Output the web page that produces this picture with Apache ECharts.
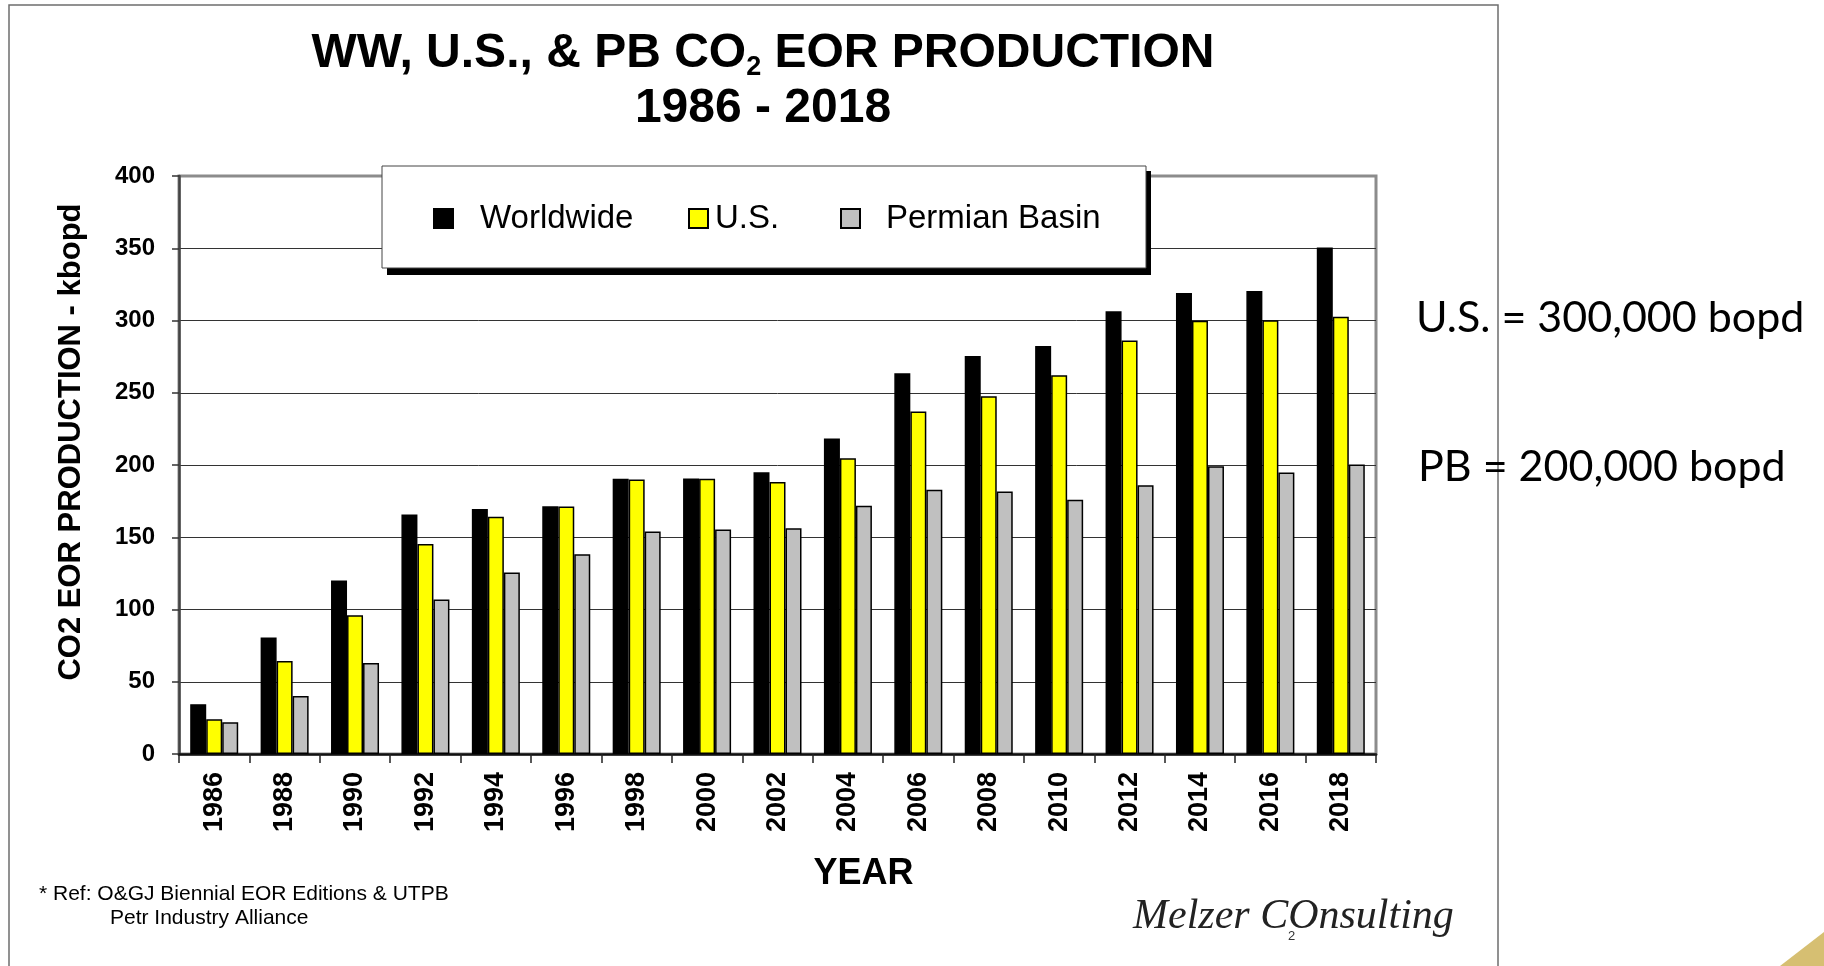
<!DOCTYPE html>
<html>
<head>
<meta charset="utf-8">
<title>WW, U.S., & PB CO2 EOR Production</title>
<script src="https://cdn.jsdelivr.net/npm/echarts@6/dist/echarts.min.js"></script>
<style>
  html, body { margin: 0; padding: 0; background: #fff; }
  #main { width: 1824px; height: 966px; }
</style>
</head>
<body>
<div id="main"></div>
<script>
// values, kbopd
var years = ['1986', '1988', '1990', '1992', '1994', '1996', '1998', '2000', '2002',
             '2004', '2006', '2008', '2010', '2012', '2014', '2016', '2018'];
var worldwide = [34.5, 80.7, 120.1, 165.8, 169.6, 171.5, 190.4, 190.7, 195.0,
                 218.3, 263.5, 275.5, 282.4, 306.4, 319.0, 320.4, 350.5];
var usProd = [24.0, 64.3, 96.0, 145.3, 164.2, 171.3, 189.9, 190.4, 188.2,
              204.6, 237.0, 247.6, 262.1, 286.2, 299.9, 300.1, 302.6];
var permian = [21.9, 40.2, 62.9, 107.0, 125.6, 138.2, 154.0, 155.4, 156.2,
               171.8, 182.8, 181.7, 175.9, 186.0, 199.2, 194.8, 200.3];
var yTicks = { min: 0, max: 400, interval: 50 };

var FONT = 'Liberation Sans, Arial, sans-serif';

var myChart = echarts.init(document.getElementById('main'));

function barSeries(name, color, values) {
    return {
        name: name,
        type: 'bar',
        data: values,
        barWidth: 16,
        barGap: '0%',
        itemStyle: { color: color, borderColor: '#000', borderWidth: 1.5 }
    };
}

function legendItem(name, left, gap) {
    return {
        data: [{ name: name, icon: 'rect' }],
        left: left,
        top: 202,
        padding: 0,
        z: 10,
        selectedMode: false,
        itemWidth: 19,
        itemHeight: 19,
        textStyle: { fontFamily: FONT, fontSize: 33, color: '#000', padding: [0, 0, 0, gap] }
    };
}

var option = {
    animation: false,
    backgroundColor: '#fff',
    title: {
        left: 763,
        top: 26,
        padding: 0,
        textAlign: 'center',
        text: '{a|WW, U.S., & PB CO}{s|2}{a| EOR PRODUCTION}\n{a|1986 - 2018}',
        textStyle: {
            rich: {
                a: { fontFamily: FONT, fontSize: 48, fontWeight: 'bold', color: '#000', lineHeight: 55 },
                s: { fontFamily: FONT, fontSize: 27, fontWeight: 'bold', color: '#000', lineHeight: 46, verticalAlign: 'bottom' }
            }
        }
    },
    legend: [
        legendItem('Worldwide', 433, 22),
        legendItem('U.S.', 688, 2),
        legendItem('Permian Basin', 840, 21)
    ],
    grid: {
        left: 179,
        right: 448,
        top: 176,
        bottom: 212,
        show: true,
        borderColor: '#8c8c8c',
        borderWidth: 3,
        containLabel: false,
        outerBoundsMode: 'none'
    },
    xAxis: {
        type: 'category',
        data: years,
        name: 'YEAR',
        nameLocation: 'middle',
        nameGap: 102,
        nameTextStyle: { fontFamily: FONT, fontSize: 36, fontWeight: 'bold', color: '#000', padding: [0, 0, 0, 172] },
        axisLine: { lineStyle: { color: '#111', width: 2.5 } },
        axisTick: { show: true, length: 9, lineStyle: { color: '#222', width: 1.5 } },
        axisLabel: {
            interval: 0,
            rotate: 90,
            margin: 18,
            fontFamily: FONT,
            fontSize: 27,
            fontWeight: 'bold',
            color: '#000'
        }
    },
    yAxis: {
        type: 'value',
        min: yTicks.min,
        max: yTicks.max,
        interval: yTicks.interval,
        name: 'CO2 EOR PRODUCTION - kbopd',
        nameLocation: 'middle',
        nameGap: 92,
        nameTextStyle: { fontFamily: FONT, fontSize: 31, fontWeight: 'bold', color: '#000', padding: [0, 0, 0, 46] },
        axisLine: { show: true, lineStyle: { color: '#444', width: 2.5 } },
        axisTick: { show: true, length: 7, lineStyle: { color: '#333', width: 1.5 } },
        axisLabel: { margin: 24, fontFamily: FONT, fontSize: 24, fontWeight: 'bold', color: '#000' },
        splitLine: { show: true, showMinLine: false, showMaxLine: false, lineStyle: { color: '#333', width: 1 } }
    },
    series: [
        barSeries('Worldwide', '#000000', worldwide),
        barSeries('U.S.', '#FFFF00', usProd),
        barSeries('Permian Basin', '#C0C0C0', permian)
    ],
    graphic: [
        // outer frame of the slide picture
        { type: 'rect', z: 1, shape: { x: 9, y: 5, width: 1489, height: 1000 },
          style: { fill: 'none', stroke: '#6e6e6e', lineWidth: 1.5 } },
        // legend box with its drop shadow
        { type: 'rect', z: 8, shape: { x: 387, y: 171, width: 764, height: 104 }, style: { fill: '#000' } },
        { type: 'rect', z: 9, shape: { x: 382, y: 166, width: 764, height: 102 },
          style: { fill: '#fff', stroke: '#444', lineWidth: 1 } },
        { type: 'text', z: 10, x: 1416, y: 318,
          style: { text: 'U.S. = 300,000 bopd', font: '43px Lato, sans-serif', fill: '#000', verticalAlign: 'middle' } },
        { type: 'text', z: 10, x: 1418, y: 467,
          style: { text: 'PB = 200,000 bopd', font: '43px Lato, sans-serif', fill: '#000', verticalAlign: 'middle' } },
        { type: 'text', x: 39, y: 894,
          style: { text: '* Ref: O&GJ Biennial EOR Editions & UTPB', font: '21px ' + FONT, fill: '#000', verticalAlign: 'middle' } },
        { type: 'text', x: 110, y: 918,
          style: { text: 'Petr Industry Alliance', font: '21px ' + FONT, fill: '#000', verticalAlign: 'middle' } },
        { type: 'text', x: 1133, y: 917,
          style: { text: 'Melzer COnsulting', font: 'italic 42px Liberation Serif, serif', fill: '#222', verticalAlign: 'middle' } },
        { type: 'text', x: 1288, y: 936,
          style: { text: '2', font: '13px ' + FONT, fill: '#333', verticalAlign: 'middle' } },
        { type: 'polygon', shape: { points: [[1780, 966], [1824, 932], [1824, 966]] },
          style: { fill: '#d6bf72' } }
    ]
};

myChart.setOption(option);
</script>
</body>
</html>
